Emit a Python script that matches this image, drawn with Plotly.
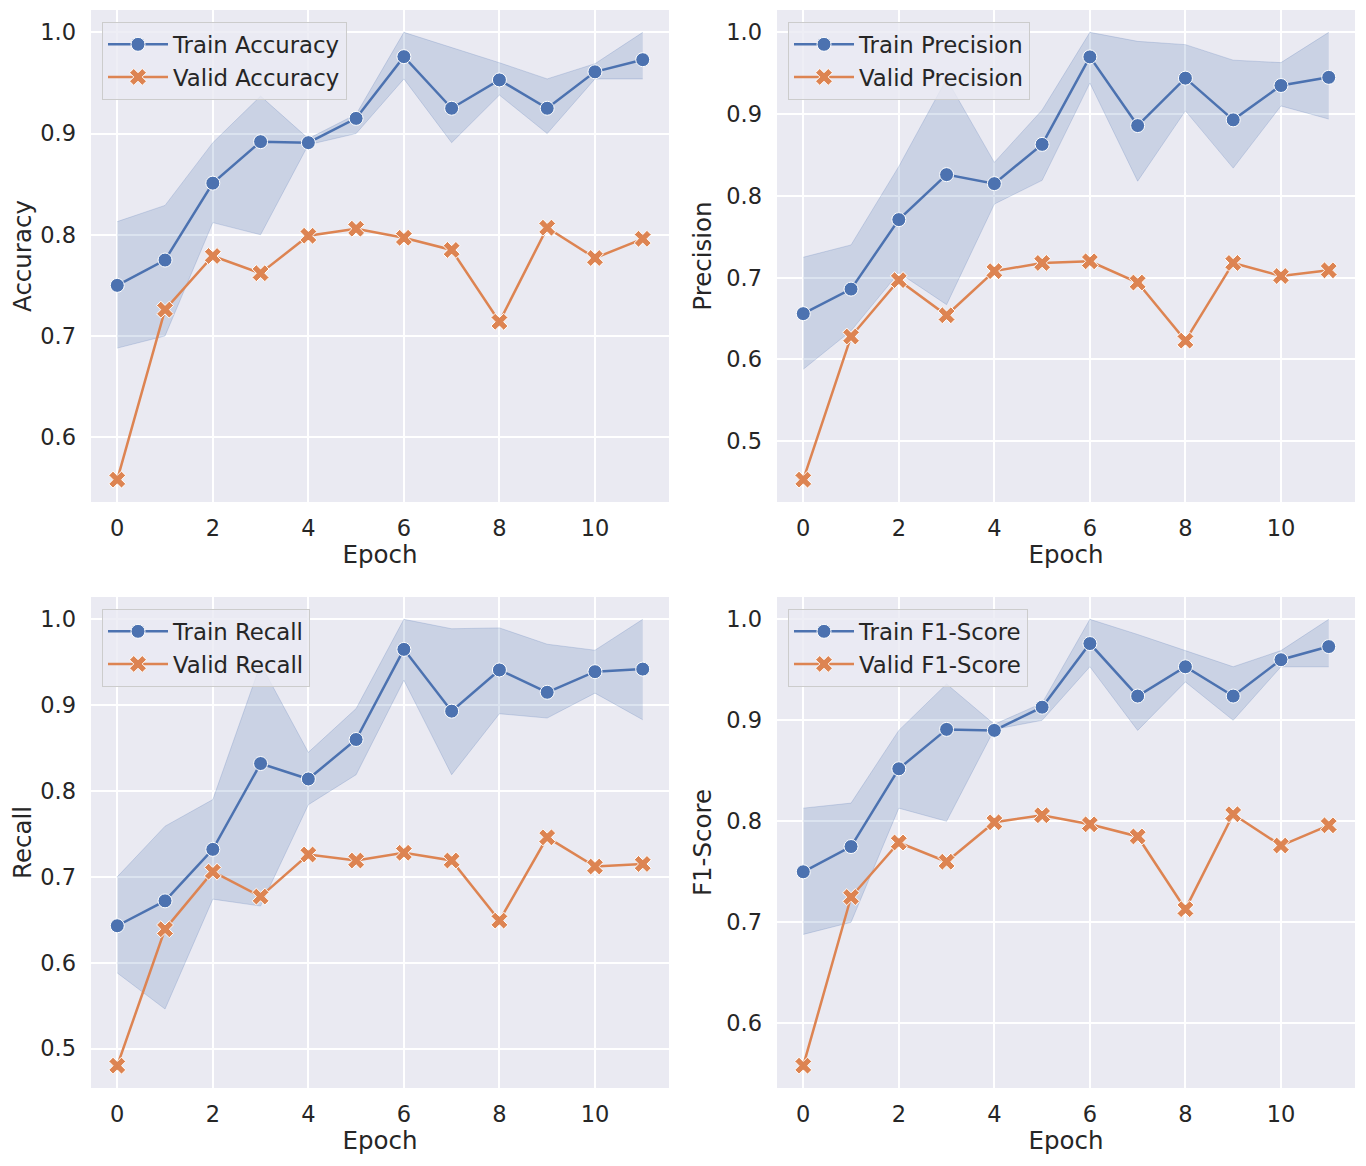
import plotly.graph_objects as go

epochs = list(range(12))

acc_train = [0.750, 0.775, 0.851, 0.892, 0.891, 0.915, 0.976, 0.925, 0.953, 0.925, 0.961, 0.973]
acc_lo = [0.688, 0.700, 0.812, 0.800, 0.889, 0.900, 0.954, 0.891, 0.938, 0.900, 0.954, 0.954]
acc_hi = [0.813, 0.829, 0.891, 0.937, 0.895, 0.919, 1.000, 0.985, 0.970, 0.954, 0.969, 1.000]
acc_valid = [0.558, 0.726, 0.779, 0.762, 0.799, 0.806, 0.797, 0.785, 0.714, 0.807, 0.777, 0.796]

prec_train = [0.656, 0.686, 0.771, 0.826, 0.815, 0.863, 0.970, 0.886, 0.944, 0.893, 0.935, 0.945]
prec_lo = [0.588, 0.635, 0.706, 0.667, 0.790, 0.819, 0.938, 0.818, 0.904, 0.834, 0.910, 0.894]
prec_hi = [0.725, 0.740, 0.836, 0.943, 0.841, 0.905, 1.000, 0.989, 0.985, 0.966, 0.963, 1.000]
prec_valid = [0.453, 0.628, 0.697, 0.654, 0.708, 0.718, 0.720, 0.694, 0.623, 0.718, 0.702, 0.709]

rec_train = [0.643, 0.672, 0.732, 0.832, 0.814, 0.860, 0.965, 0.893, 0.941, 0.915, 0.939, 0.942]
rec_lo = [0.588, 0.546, 0.674, 0.666, 0.784, 0.819, 0.929, 0.819, 0.890, 0.885, 0.914, 0.883]
rec_hi = [0.700, 0.759, 0.790, 0.948, 0.845, 0.896, 1.000, 0.989, 0.990, 0.971, 0.964, 1.000]
rec_valid = [0.480, 0.639, 0.706, 0.677, 0.726, 0.719, 0.728, 0.719, 0.649, 0.746, 0.712, 0.715]

f1_train = [0.750, 0.775, 0.852, 0.891, 0.890, 0.913, 0.976, 0.924, 0.953, 0.924, 0.960, 0.973]
f1_lo = [0.688, 0.700, 0.813, 0.800, 0.891, 0.900, 0.953, 0.890, 0.938, 0.900, 0.953, 0.953]
f1_hi = [0.813, 0.818, 0.890, 0.936, 0.896, 0.917, 1.000, 0.985, 0.969, 0.953, 0.969, 1.000]
f1_valid = [0.558, 0.725, 0.779, 0.760, 0.799, 0.806, 0.797, 0.785, 0.713, 0.807, 0.776, 0.796]

panels = [
    ("Accuracy", acc_train, acc_lo, acc_hi, acc_valid, [0.6, 0.7, 0.8, 0.9, 1.0]),
    ("Precision", prec_train, prec_lo, prec_hi, prec_valid, [0.5, 0.6, 0.7, 0.8, 0.9, 1.0]),
    ("Recall", rec_train, rec_lo, rec_hi, rec_valid, [0.5, 0.6, 0.7, 0.8, 0.9, 1.0]),
    ("F1-Score", f1_train, f1_lo, f1_hi, f1_valid, [0.6, 0.7, 0.8, 0.9, 1.0]),
]

OFF = 8  # page body margin
W, H = 1366 - OFF, 1166 - OFF
BLUE = "#4C72B0"
ORANGE = "#DD8452"
BG = "#EAEAF2"
FONT = "DejaVu Sans"
TXT = "#262626"

def px(v):
    return (v - OFF) / W

def py(v):
    return 1 - (v - OFF) / H

xdoms = [(px(91), px(669)), (px(777), px(1355))]
ydoms = [(py(502), py(10)), (py(1088), py(597))]

fig = go.Figure()
layout = {}

for i, (name, tr, lo, hi, va, yt) in enumerate(panels):
    col = i % 2
    row = i // 2
    n = i + 1
    xa = "x" if n == 1 else f"x{n}"
    ya = "y" if n == 1 else f"y{n}"
    leg = "legend" if n == 1 else f"legend{n}"

    fig.add_trace(go.Scatter(x=epochs, y=lo, mode="lines", xaxis=xa, yaxis=ya,
                             line=dict(color="rgba(76,114,176,0.22)", width=1),
                             showlegend=False, hoverinfo="skip"))
    fig.add_trace(go.Scatter(x=epochs, y=hi, mode="lines", xaxis=xa, yaxis=ya,
                             line=dict(color="rgba(76,114,176,0.22)", width=1),
                             fill="tonexty", fillcolor="rgba(76,114,176,0.2)",
                             showlegend=False, hoverinfo="skip"))
    fig.add_trace(go.Scatter(x=epochs, y=tr, mode="lines+markers", xaxis=xa, yaxis=ya,
                             name=f"Train {name}", legend=leg,
                             line=dict(color=BLUE, width=2.5),
                             marker=dict(symbol="circle", size=14, color=BLUE,
                                         line=dict(color="white", width=1))))
    fig.add_trace(go.Scatter(x=epochs, y=va, mode="lines+markers", xaxis=xa, yaxis=ya,
                             name=f"Valid {name}", legend=leg,
                             line=dict(color=ORANGE, width=2.5),
                             marker=dict(symbol="x", size=15, color=ORANGE,
                                         line=dict(color="white", width=1))))

    allv = lo + hi + va + tr
    vmin, vmax = min(allv), max(allv)
    pad = 0.05 * (vmax - vmin)

    xkey = "xaxis" if n == 1 else f"xaxis{n}"
    ykey = "yaxis" if n == 1 else f"yaxis{n}"
    layout[xkey] = dict(domain=xdoms[col], anchor=ya, range=[-0.55, 11.55],
                        tickvals=[0, 2, 4, 6, 8, 10], showgrid=True, gridcolor="white",
                        gridwidth=1.5, zeroline=False, showline=False, ticks="",
                        ticklabelstandoff=10,
                        tickfont=dict(family=FONT, size=22.5, color=TXT),
                        title=dict(text="Epoch", standoff=6,
                                   font=dict(family=FONT, size=24.5, color=TXT)))
    layout[ykey] = dict(domain=ydoms[row], anchor=xa, range=[vmin - pad, vmax + pad],
                        tickvals=yt, ticktext=[f"{v:.1f}" for v in yt],
                        showgrid=True, gridcolor="white",
                        gridwidth=1.5, zeroline=False, showline=False, ticks="",
                        ticklabelstandoff=14,
                        tickfont=dict(family=FONT, size=22.5, color=TXT),
                        title=dict(text=name, standoff=7,
                                   font=dict(family=FONT, size=24.5, color=TXT)))
    layout[leg] = dict(x=px(102 if col == 0 else 788),
                       y=py(22 if row == 0 else 609),
                       xanchor="left", yanchor="top", traceorder="normal",
                       itemwidth=60,
                       bgcolor="rgba(234,234,242,0.8)", bordercolor="#CCCCCC",
                       borderwidth=1,
                       font=dict(family=FONT, size=22.8, color=TXT))

    fig.add_shape(type="rect", xref=f"{xa} domain", yref=f"{ya} domain",
                  x0=0, x1=1, y0=0, y1=1, fillcolor=BG, line=dict(width=0),
                  layer="below")

fig.update_layout(width=W, height=H, margin=dict(l=0, r=0, t=0, b=0),
                  paper_bgcolor="white", plot_bgcolor=BG,
                  font=dict(family=FONT, color=TXT), **layout)

fig.write_html("out.html")
